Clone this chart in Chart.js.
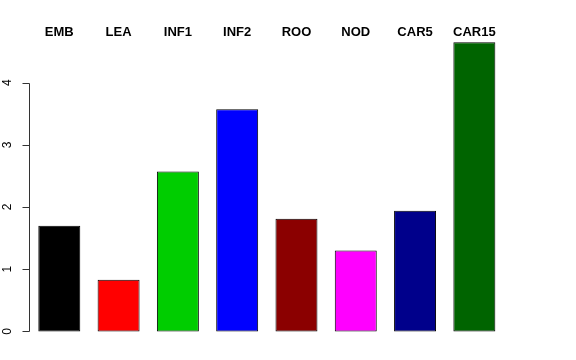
<!DOCTYPE html>
<html>
<head>
<meta charset="utf-8">
<script src="https://cdn.jsdelivr.net/npm/chart.js@4/dist/chart.umd.min.js"></script>
<style>
  html, body { margin: 0; padding: 0; background: #ffffff; }
  #wrap { width: 576px; height: 360px; }
</style>
</head>
<body>
<div id="wrap"><canvas id="c" width="576" height="360"></canvas></div>
<script>
const categories = ['EMB', 'LEA', 'INF1', 'INF2', 'ROO', 'NOD', 'CAR5', 'CAR15'];
const values = [1.70, 0.83, 2.57, 3.57, 1.81, 1.30, 1.94, 4.65];
const barColors = ['#000000', '#FF0000', '#00CD00', '#0000FF', '#8B0000', '#FF00FF', '#00008B', '#006400'];
const yTickValues = [0, 1, 2, 3, 4];

const rAxisPlugin = {
  id: 'rAxis',
  afterDraw(chart) {
    const ctx = chart.ctx;
    const y = chart.scales.y;
    const x0 = Math.round(chart.chartArea.left - 1) + 0.5;
    const yTop = y.getPixelForValue(yTickValues[yTickValues.length - 1]);
    const yBot = y.getPixelForValue(yTickValues[0]);
    ctx.save();
    ctx.strokeStyle = '#333333';
    ctx.lineWidth = 1;
    ctx.beginPath();
    ctx.moveTo(x0, Math.round(yTop) + 0.5);
    ctx.lineTo(x0, Math.round(yBot) + 0.5);
    yTickValues.forEach(v => {
      const py = Math.round(y.getPixelForValue(v)) + 0.5;
      ctx.moveTo(x0, py);
      ctx.lineTo(x0 - 7, py);
    });
    ctx.stroke();
    ctx.fillStyle = '#000000';
    ctx.font = '12px "Liberation Sans", Arial, sans-serif';
    ctx.textAlign = 'center';
    ctx.textBaseline = 'middle';
    yTickValues.forEach(v => {
      const py = y.getPixelForValue(v);
      ctx.save();
      ctx.translate(7.5, py);
      ctx.rotate(-Math.PI / 2);
      ctx.fillText(String(v), 0, 0);
      ctx.restore();
    });
    ctx.restore();
  }
};

new Chart(document.getElementById('c'), {
  type: 'bar',
  data: {
    labels: categories,
    datasets: [{
      data: values,
      backgroundColor: barColors,
      borderColor: '#000000',
      borderWidth: 1,
      borderSkipped: false,
      barPercentage: 0.708,
      categoryPercentage: 1.0,
      clip: false
    }]
  },
  options: {
    responsive: false,
    animation: false,
    devicePixelRatio: 1,
    layout: { padding: { left: 29.65, right: 72, top: 25, bottom: 14 } },
    plugins: { legend: { display: false }, tooltip: { enabled: false } },
    scales: {
      x: {
        position: 'top',
        grid: { display: false, drawTicks: false },
        border: { display: false },
        ticks: {
          color: '#000000',
          font: { family: '"Liberation Sans", Arial, sans-serif', size: 13, weight: 'bold' },
          padding: 0,
          maxRotation: 0,
          minRotation: 0,
          autoSkip: false
        }
      },
      y: {
        display: false,
        min: -0.234,
        max: 4.675
      }
    }
  },
  plugins: [rAxisPlugin]
});
</script>
</body>
</html>
